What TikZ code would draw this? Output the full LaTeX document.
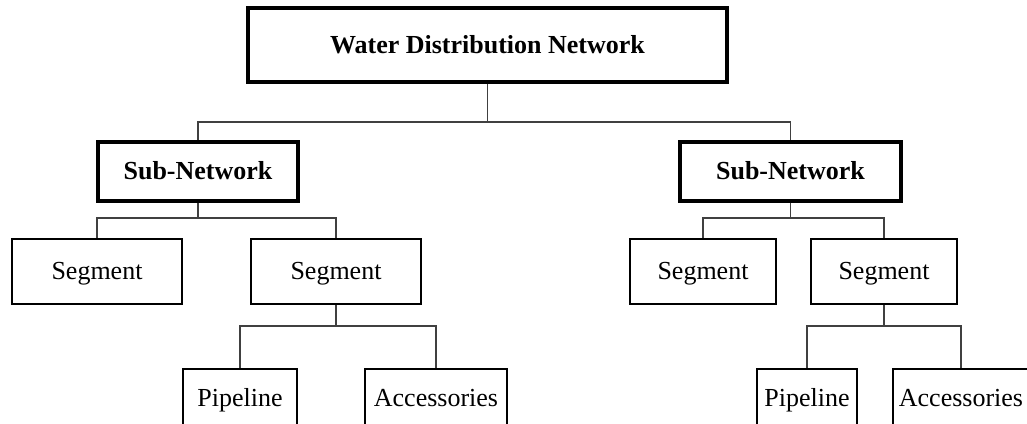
\documentclass[tikz,border=0pt]{standalone}
\usepackage{fontspec}
\setmainfont{Liberation Serif}
\begin{document}
\begin{tikzpicture}[x=0.75pt, y=-0.75pt,
  font=\fontsize{19.5}{23}\selectfont,
  box/.style={draw=black, rectangle, inner sep=0pt, line width=1.6pt,
    text height=15pt, text depth=2.5pt},
  bigbox/.style={box, line width=2.6pt, font=\fontsize{19.5}{23}\selectfont\bfseries},
  link/.style={draw=black!75, line width=0.8pt}]
\useasboundingbox (0,0) rectangle (1027,424);
\clip (0,0) rectangle (1027,424);

% root
\node[bigbox, minimum width=479*0.75pt, minimum height=74*0.75pt] (root) at (487.5,45) {Water Distribution Network};

% sub-networks
\node[bigbox, minimum width=200*0.75pt, minimum height=59*0.75pt] (snA) at (198,171.5) {Sub-Network};
\node[bigbox, minimum width=221*0.75pt, minimum height=59*0.75pt] (snB) at (790.5,171.5) {Sub-Network};

% segments
\node[box, minimum width=170*0.75pt, minimum height=65*0.75pt] (sgA1) at (97,271.5) {Segment};
\node[box, minimum width=170*0.75pt, minimum height=65*0.75pt] (sgA2) at (336,271.5) {Segment};
\node[box, minimum width=146*0.75pt, minimum height=65*0.75pt] (sgB1) at (703,271.5) {Segment};
\node[box, minimum width=146*0.75pt, minimum height=65*0.75pt] (sgB2) at (884,271.5) {Segment};

% pipeline and accessories
\node[box, minimum width=114*0.75pt, minimum height=58*0.75pt] (pA) at (240,398) {Pipeline};
\node[box, minimum width=142*0.75pt, minimum height=58*0.75pt] (aA) at (436,398) {Accessories};
\node[box, minimum width=100*0.75pt, minimum height=58*0.75pt] (pB) at (807,398) {Pipeline};
\node[box, minimum width=136*0.75pt, minimum height=58*0.75pt] (aB) at (961,398) {Accessories};

% tree connectors
\coordinate (j0) at (487.5,122);
\draw[link] (root.south) -- (j0);
\draw[link] (j0) -| (snA.north);
\draw[link] (j0) -| (snB.north);

\coordinate (jA) at (198,218);
\draw[link] (snA.south) -- (jA);
\draw[link] (jA) -| (sgA1.north);
\draw[link] (jA) -| (sgA2.north);

\coordinate (jB) at (790.5,218);
\draw[link] (snB.south) -- (jB);
\draw[link] (jB) -| (sgB1.north);
\draw[link] (jB) -| (sgB2.north);

\coordinate (kA) at (336,326);
\draw[link] (sgA2.south) -- (kA);
\draw[link] (kA) -| (pA.north);
\draw[link] (kA) -| (aA.north);

\coordinate (kB) at (884,326);
\draw[link] (sgB2.south) -- (kB);
\draw[link] (kB) -| (pB.north);
\draw[link] (kB) -| (aB.north);
\end{tikzpicture}
\end{document}
